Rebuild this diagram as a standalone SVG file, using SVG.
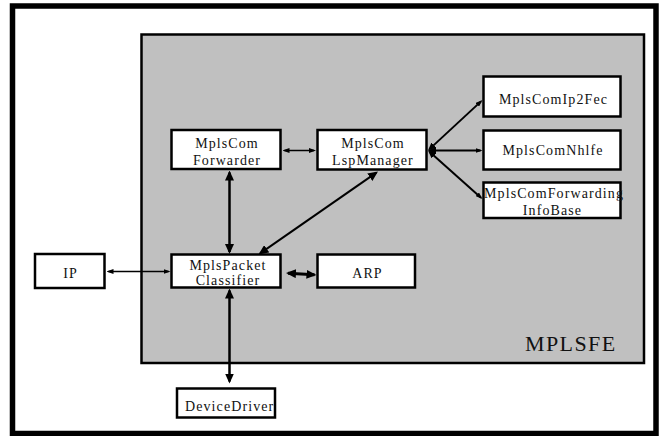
<svg xmlns="http://www.w3.org/2000/svg" width="663" height="436" viewBox="0 0 663 436">
<style>
.box{fill:#fff;stroke:#000;stroke-width:2.5}
.t{font-family:"Liberation Serif","Times New Roman",serif;font-size:14px;letter-spacing:1.1px;fill:#111}
.c{text-anchor:middle}
.ln{fill:none;stroke:#000}
.thin{stroke-width:1.5}
.mid{stroke-width:2}
.thick{stroke-width:2.5}
</style>
<defs>
<marker id="big" viewBox="0 0 10 9" refX="8" refY="4.5" markerWidth="10" markerHeight="9" markerUnits="userSpaceOnUse" orient="auto-start-reverse"><path d="M0,0 L10,4.5 L0,9 z" fill="#000"/></marker>
<marker id="sm" viewBox="0 0 7 5" refX="5" refY="2.5" markerWidth="7" markerHeight="5" markerUnits="userSpaceOnUse" orient="auto-start-reverse"><path d="M0,0 L7,2.5 L0,5 z" fill="#000"/></marker>
<marker id="md" viewBox="0 0 8 7" refX="6" refY="3.5" markerWidth="8" markerHeight="7" markerUnits="userSpaceOnUse" orient="auto-start-reverse"><path d="M0,0 L8,3.5 L0,7 z" fill="#000"/></marker>
</defs>
<rect id="frame" x="12.5" y="6" width="643.5" height="427.5" fill="#fff" stroke="#000" stroke-width="5.5"/>
<g id="MPLSFE">
<rect x="141.5" y="34.5" width="502.5" height="328.5" fill="#c0c0c0" stroke="#000" stroke-width="2.5"/>
<text x="525" y="350.5" style="font-family:'Liberation Serif','Times New Roman',serif;font-size:22px;letter-spacing:1.4px;fill:#111">MPLSFE</text>
</g>
<g id="connectors">
<line class="ln thin" x1="284.5" y1="150.5" x2="314" y2="150.5" marker-start="url(#sm)" marker-end="url(#sm)"/>
<line class="ln thick" x1="229.5" y1="172.5" x2="229.5" y2="252" marker-start="url(#big)" marker-end="url(#big)"/>
<line class="ln mid" x1="376.36" y1="172.64" x2="260.14" y2="253.36" marker-start="url(#big)" marker-end="url(#big)"/>
<line class="ln mid" x1="429.47" y1="149.14" x2="481.03" y2="101.36" marker-start="url(#md)" marker-end="url(#sm)"/>
<line class="ln mid" x1="430" y1="150.5" x2="480.5" y2="150.5" marker-start="url(#md)" marker-end="url(#sm)"/>
<line class="ln mid" x1="429.49" y1="151.83" x2="481.01" y2="197.67" marker-start="url(#md)" marker-end="url(#sm)"/>
<line class="ln thin" x1="108.5" y1="271.5" x2="168.5" y2="271.5" marker-start="url(#sm)" marker-end="url(#sm)"/>
<line class="ln" stroke-width="3" x1="288" y1="273.13" x2="314.5" y2="274.87" marker-start="url(#big)" marker-end="url(#big)"/>
<line class="ln thick" x1="229.5" y1="290.5" x2="229.5" y2="381.5" marker-start="url(#big)" marker-end="url(#big)"/>
</g>
<g id="forwarder">
<rect class="box" x="171.5" y="130" width="109" height="39"/>
<text class="t c" x="227" y="148">MplsCom</text>
<text class="t c" x="227" y="165">Forwarder</text>
</g>
<g id="lspmanager">
<rect class="box" x="317.5" y="130" width="109" height="39.5"/>
<text class="t c" x="373" y="148">MplsCom</text>
<text class="t c" x="373" y="165">LspManager</text>
</g>
<g id="ip2fec">
<rect class="box" x="483.5" y="76.5" width="137" height="40"/>
<text class="t c" x="553.5" y="103.5">MplsComIp2Fec</text>
</g>
<g id="nhlfe">
<rect class="box" x="483.5" y="130.5" width="137" height="39"/>
<text class="t c" x="553" y="155">MplsComNhlfe</text>
</g>
<g id="fib">
<rect class="box" x="483.5" y="182.5" width="137" height="35.5"/>
<text class="t" x="484" y="198">MplsComForwarding</text>
<text class="t c" x="552.5" y="214.5">InfoBase</text>
</g>
<g id="classifier">
<rect class="box" x="171.5" y="254.5" width="109" height="33"/>
<text class="t c" x="228" y="269.5">MplsPacket</text>
<text class="t c" x="228" y="285">Classifier</text>
</g>
<g id="arp">
<rect class="box" x="317.5" y="254.5" width="97.5" height="33"/>
<text class="t c" x="367.5" y="277.5">ARP</text>
</g>
<g id="ip">
<rect class="box" x="35" y="254" width="69.5" height="34"/>
<text class="t c" x="70.5" y="278">IP</text>
</g>
<g id="devicedriver">
<rect class="box" x="177" y="388.5" width="98" height="29"/>
<text class="t" x="185" y="410.5">DeviceDriver</text>
</g>
</svg>
